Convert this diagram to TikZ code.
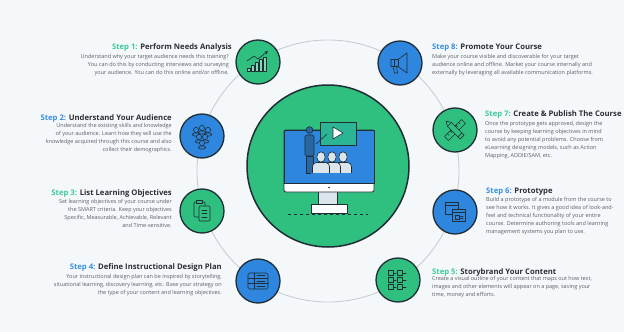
\documentclass[tikz,border=0pt]{standalone}
\usepackage{fontspec}
\setmainfont{Open Sans}
\usetikzlibrary{positioning}

\definecolor{stepgreen}{HTML}{2FBF7F}
\definecolor{stepblue}{HTML}{2E86DE}
\definecolor{ink}{HTML}{1F2E35}
\definecolor{ringgrey}{HTML}{C9CDD1}
\definecolor{paper}{HTML}{F5F8FB}
\definecolor{titlegrey}{HTML}{2B2F33}
\definecolor{bodygrey}{HTML}{5A5F64}
\definecolor{labelgreen}{HTML}{3DCB98}
\definecolor{labelblue}{HTML}{3A8FE2}
\definecolor{boardgreen}{HTML}{2BB594}
\definecolor{crowd}{HTML}{DDE5EC}

\newcommand{\steplabel}[3]{\textcolor{#1}{Step #2:} #3}

\tikzset{
  stepdot/.style={circle, draw=ink, line width=1.3pt, minimum size=44pt, inner sep=0pt},
  greendot/.style={stepdot, fill=stepgreen},
  bluedot/.style={stepdot, fill=stepblue},
  icon/.style={draw=ink, line width=0.6pt, line join=round, line cap=round},
  steptitle/.style={font=\fontsize{7.7}{9}\selectfont\bfseries, text=titlegrey, inner sep=0pt},
  stepbody/.style={font=\fontsize{5.5}{8}\selectfont, text=bodygrey, inner sep=0pt},
}

\begin{document}
\begin{tikzpicture}[x=1pt, y=-1pt]
\useasboundingbox (0,0) rectangle (624,332);
\fill[paper] (0,0) rectangle (624,332);

\coordinate (hub) at (328,171);
\draw[ringgrey, line width=0.9pt] (hub) circle[radius=131pt];

\node[circle, draw=ink, line width=1.5pt, fill=stepgreen, minimum size=162pt] (core) at (328,166) {};

% monitor with the lecture on screen
\draw[icon, fill=crowd] (318,191) rectangle (337,204);
\draw[icon, fill=white] (311,204) rectangle (347,213);
\draw[ink, line width=0.8pt, dashed] (288,214.5) -- (368,214.5);
\draw[icon, line width=0.9pt, fill=white, rounded corners=1.5pt] (284,130) rectangle (374,192);
\draw[icon, fill=stepblue] (284,130) rectangle (374,183);
\fill[ink] (329,187.5) circle[radius=0.9pt];
\draw[icon, fill=boardgreen] (320,122) rectangle (356,145);
\draw[icon, fill=white] (333,127) -- (333,139) -- (343,133) -- cycle;
\draw[icon] (316,144) -- (327,134);
\draw[icon, fill=stepblue!65!ink, rounded corners=1.5pt] (305,135) rectangle (314,156);
\draw[icon, fill=stepblue!65!ink] (306,156) rectangle (313,173);
\draw[icon, fill=stepblue!65!ink] (309.5,130) circle[radius=3.4pt];
\foreach \x in {343,332,321} {
  \draw[icon, fill=crowd, rounded corners=4pt] (\x-8.5,162.5) rectangle (\x+8.5,178);
  \fill[stepblue] (\x-10,173.4) rectangle (\x+10,179);
  \draw[icon, fill=crowd] (\x,157) circle[x radius=4.2pt, y radius=5.2pt];
}
\draw[icon] (284,183) -- (374,183);

% the eight step badges
\node[greendot] (s1) at (258,62) {};
\node[bluedot]  (s2) at (202,136) {};
\node[greendot] (s3) at (202,211) {};
\node[bluedot]  (s4) at (258,281) {};
\node[bluedot]  (s8) at (400,63) {};
\node[greendot] (s7) at (455,130) {};
\node[bluedot]  (s6) at (455,212) {};
\node[greendot] (s5) at (398,280) {};

% step 1: rising bar chart
\begin{scope}[shift={(s1.center)}]
  \foreach \x/\h in {-9/3, -5/6, -1/9, 3/12, 7/14}
    \draw[icon, fill=stepgreen!60!white] (\x-1.4,9) rectangle (\x+1.4,9-\h);
  \draw[icon, -stealth] (-11,-1) -- (-4,-6) -- (0,-3) -- (10,-11);
\end{scope}

% step 2: audience group
\begin{scope}[shift={(s2.center)}]
  \foreach \x/\y in {-6/-6, 0/-8, 6/-6, -3/1, 3/1, 0/7} {
    \draw[icon, fill=stepblue, rounded corners=2pt] (\x-3.5,\y+6) rectangle (\x+3.5,\y+3);
    \draw[icon, fill=stepblue] (\x,\y) circle[radius=2.6pt];
  }
\end{scope}

% step 3: clipboards
\begin{scope}[shift={(s3.center)}]
  \draw[icon, fill=stepgreen, rounded corners=1pt] (-8,-9) rectangle (3,6);
  \draw[icon, fill=stepgreen, rounded corners=1pt] (-3,-5) rectangle (8,10);
  \draw[icon, fill=stepgreen] (-5.5,-10.5) rectangle (0.5,-7.5);
  \foreach \y in {-1,2.5,6} \draw[icon] (0,\y) -- (5,\y);
\end{scope}

% step 4: design plan sheet
\begin{scope}[shift={(s4.center)}]
  \draw[icon, rounded corners=1.5pt] (-10,-8) rectangle (10,8);
  \draw[icon] (-10,-2.7) -- (10,-2.7) (-10,2.7) -- (10,2.7) (-4,-8) -- (-4,8);
  \foreach \y in {-5.3,0,5.3} \draw[icon] (-1,\y) -- (7,\y);
\end{scope}

% step 8: megaphone
\begin{scope}[shift={(s8.center)}]
  \draw[icon, fill=stepblue] (-9,-3.5) -- (-2,-3.5) -- (7,-10) -- (7,10) -- (-2,3.5) -- (-9,3.5) -- cycle;
  \draw[icon] (-2,-3.5) -- (-2,3.5) (-6,-3.5) -- (-6,3.5);
  \draw[icon] (-7,3.5) -- (-5.5,10) -- (-2.5,10) -- (-3.5,3.5);
\end{scope}

% step 7: crossed pencil and ruler
\begin{scope}[shift={(s7.center)}]
  \draw[icon, fill=stepgreen, rotate=45] (-12,-2.8) rectangle (12,2.8);
  \foreach \t in {-8,-4,0,4,8} \draw[icon, rotate=45] (\t,-2.8) -- (\t,-0.5);
  \draw[icon, fill=stepgreen, rotate=-45] (-8,-2.8) -- (10,-2.8) -- (10,2.8) -- (-8,2.8) -- (-12.5,0) -- cycle;
  \draw[icon, rotate=-45] (-8,-2.8) -- (-8,2.8) (7,-2.8) -- (7,2.8);
\end{scope}

% step 6: prototype windows
\begin{scope}[shift={(s6.center)}]
  \draw[icon, fill=stepblue] (-10,-10) rectangle (3,2);
  \draw[icon] (-10,-6.5) -- (3,-6.5);
  \draw[icon, fill=stepblue] (-3,-3) rectangle (10,9);
  \draw[icon] (-3,0.5) -- (10,0.5);
  \draw[icon] (0,3.5) rectangle (4,7) (5.5,4) -- (8,4) (5.5,6.5) -- (8,6.5);
\end{scope}

% step 5: storyboard frames
\begin{scope}[shift={(s5.center)}]
  \foreach \y in {-7,0,7} {
    \draw[icon] (-10,\y-2.5) rectangle (-5,\y+2.5) (-4,\y) -- (-2,\y);
    \draw[icon] (-1,\y-2.5) rectangle (4,\y+2.5) (5,\y) -- (8,\y);
  }
\end{scope}

% texts on the left
\node[steptitle, anchor=base east] (t1) at (232,49) {\steplabel{labelgreen}{1}{Perform Needs Analysis}};
\node[stepbody, anchor=north east, align=right] (b1) at (229,54)
  {Understand why your target audience needs this training?\\
   You can do this by conducting interviews and surveying\\
   your audience. You can do this online and/or offline.};

\node[steptitle, anchor=base east] (t2) at (172,120) {\steplabel{labelblue}{2}{Understand Your Audience}};
\node[stepbody, anchor=north east, align=right] (b2) at (172,123.5)
  {Understand the existing skills and knowledge\\
   of your audience. Learn how they will use the\\
   knowledge acquired through this course and also\\
   collect their demographics.};

\node[steptitle, anchor=base east] (t3) at (172,195) {\steplabel{labelgreen}{3}{List Learning Objectives}};
\node[stepbody, anchor=north east, align=right] (b3) at (172,199.5)
  {Set learning objectives of your course under\\
   the SMART criteria. Keep your objectives\\
   Specific, Measurable, Achievable, Relevant\\
   and Time-sensitive.};

\node[steptitle, anchor=base east] (t4) at (222,269) {\steplabel{labelblue}{4}{Define Instructional Design Plan}};
\node[stepbody, anchor=north east, align=right] (b4) at (222,274.5)
  {Your instructional design plan can be inspired by storytelling,\\
   situational learning, discovery learning, etc. Base your strategy on\\
   the type of your content and learning objectives.};

% texts on the right
\node[steptitle, anchor=base west] (t8) at (432,49) {\steplabel{labelblue}{8}{Promote Your Course}};
\node[stepbody, anchor=north west, align=left] (b8) at (432,54)
  {Make your course visible and discoverable for your target\\
   audience online and offline. Market your course internally and\\
   externally by leveraging all available communication platforms.};

\node[steptitle, anchor=base west] (t7) at (485,116) {\steplabel{labelgreen}{7}{Create \& Publish The Course}};
\node[stepbody, anchor=north west, align=left] (b7) at (485,121)
  {Once the prototype gets approved, design the\\
   course by keeping learning objectives in mind\\
   to avoid any potential problems. Choose from\\
   eLearning designing models, such as Action\\
   Mapping, ADDIE/SAM, etc.};

\node[steptitle, anchor=base west] (t6) at (486,193) {\steplabel{labelblue}{6}{Prototype}};
\node[stepbody, anchor=north west, align=left] (b6) at (486,197)
  {Build a prototype of a module from the course to\\
   see how it works. It gives a good idea of look-and-\\
   feel and technical functionality of your entire\\
   course. Determine authoring tools and learning\\
   management systems you plan to use.};

\node[steptitle, anchor=base west] (t5) at (432,274) {\steplabel{labelgreen}{5}{Storybrand Your Content}};
\node[stepbody, anchor=north west, align=left] (b5) at (432,276)
  {Create a visual outline of your content that maps out how text,\\
   images and other elements will appear on a page, saving your\\
   time, money and efforts.};
\end{tikzpicture}
\end{document}
